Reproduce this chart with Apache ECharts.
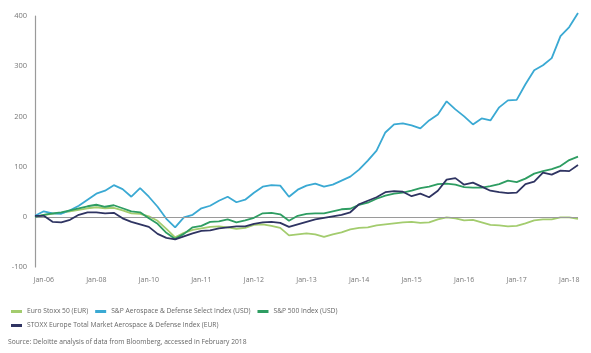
<!DOCTYPE html>
<html>
<head>
<meta charset="utf-8">
<script src="https://cdn.jsdelivr.net/npm/echarts@6/dist/echarts.min.js"></script>
<style>
  html, body { margin: 0; padding: 0; background: #fff; }
  #chart { width: 591px; height: 353px; }
</style>
</head>
<body>
<div id="chart"></div>
<script>
// axis tick labels (one every 6 points, starting at point 1)
var tickLabels = ['Jan-06', 'Jan-08', 'Jan-10', 'Jan-11', 'Jan-12', 'Jan-13', 'Jan-14', 'Jan-15', 'Jan-16', 'Jan-17', 'Jan-18'];
var yTicks = [-100, 0, 100, 200, 300, 400];

// indexed performance, %
var euroStoxx = [0, 4, 6, 8, 11, 14, 17, 19, 17, 18, 13, 7, 6, 1, -8, -24, -41, -32, -26, -23, -20, -19, -21, -24, -22, -16, -15, -18, -22, -37, -35, -33, -35, -40, -35, -31, -25, -22, -21, -17, -15, -13, -11, -10, -12, -11, -5, -1, -3, -7, -6, -11, -16, -17, -19, -18, -13, -7, -5, -5, -1, -1, -4];
var spAero = [2, 11, 7, 6, 13, 22, 34, 46, 52, 63, 55, 40, 57, 40, 20, -4, -21, -1, 4, 17, 22, 32, 40, 29, 34, 48, 60, 63, 62, 40, 54, 62, 66, 60, 64, 72, 80, 94, 112, 132, 168, 184, 186, 182, 176, 192, 204, 230, 214, 200, 184, 196, 192, 218, 232, 233, 264, 292, 302, 316, 360, 378, 406];
var sp500 = [0, 4, 7, 9, 13, 17, 21, 24, 20, 23, 17, 11, 9, -3, -14, -32, -44, -34, -21, -18, -10, -9, -5, -11, -7, -2, 7, 8, 5, -8, 2, 6, 7, 7, 11, 15, 16, 24, 28, 36, 42, 46, 48, 52, 57, 60, 65, 66, 64, 59, 58, 58, 61, 65, 72, 69, 76, 86, 91, 95, 101, 113, 120];
var stoxxAero = [2, 2, -10, -11, -6, 4, 9, 9, 7, 8, -3, -10, -15, -20, -34, -42, -45, -39, -33, -28, -27, -23, -21, -19, -19, -14, -11, -10, -12, -20, -15, -10, -5, -2, 1, 4, 9, 25, 32, 39, 49, 51, 50, 41, 46, 39, 52, 74, 77, 64, 68, 60, 52, 49, 47, 48, 65, 70, 88, 84, 92, 91, 103];

var categories = [];
for (var i = 0; i < spAero.length; i++) {
    categories.push((i - 1) % 6 === 0 ? tickLabels[(i - 1) / 6] : 'p' + i);
}

var font = '"Open Sans", "Noto Sans", sans-serif';
var myChart = echarts.init(document.getElementById('chart'));

function line(name, data, color, z) {
    return {
        name: name,
        type: 'line',
        data: data,
        symbol: 'none',
        clip: false,
        z: z,
        lineStyle: { color: color, width: 1.8 },
        itemStyle: { color: color }
    };
}

var series = [
    line('Euro Stoxx 50 (EUR)', euroStoxx, '#a3cc6e', 3),
    line('S&P Aerospace & Defense Select Index (USD)', spAero, '#3aa9d3', 4),
    line('S&P 500 Index (USD)', sp500, '#2e9d62', 5),
    line('STOXX Europe Total Market Aerospace & Defense Index (EUR)', stoxxAero, '#2f3462', 6)
];
// zero line
series[0].markLine = {
    silent: true,
    symbol: 'none',
    label: { show: false },
    lineStyle: { color: '#9a9a9a', width: 1.2, type: 'solid' },
    data: [{ yAxis: 0 }]
};

option = {
    backgroundColor: '#fff',
    animation: false,
    grid: { left: 35, right: 13, top: 16, bottom: 86 },
    legend: {
        left: 6,
        top: 303,
        width: 420,
        itemWidth: 11,
        itemHeight: 3,
        itemGap: 7,
        icon: 'rect',
        textStyle: { fontFamily: font, fontSize: 6.7, color: '#666' },
        data: series.map(function (s) { return s.name; })
    },
    graphic: [{
        type: 'text',
        left: 8,
        top: 339,
        style: {
            text: 'Source: Deloitte analysis of data from Bloomberg, accessed in February 2018',
            font: '6.7px ' + font,
            fill: '#666'
        }
    }],
    xAxis: {
        type: 'category',
        data: categories,
        boundaryGap: false,
        axisLine: { show: false, onZero: false },
        axisTick: { show: false },
        splitLine: { show: false },
        axisLabel: {
            interval: function (index) { return (index - 1) % 6 === 0; },
            margin: 9,
            fontFamily: font,
            fontSize: 7,
            color: '#777'
        }
    },
    yAxis: {
        type: 'value',
        min: yTicks[0],
        max: yTicks[yTicks.length - 1],
        interval: 100,
        axisLine: { show: true, lineStyle: { color: '#9a9a9a', width: 1.2 } },
        axisTick: { show: false },
        splitLine: { show: false },
        axisLabel: { margin: 8, fontFamily: font, fontSize: 7.5, color: '#777' }
    },
    series: series
};

myChart.setOption(option);
</script>
</body>
</html>
